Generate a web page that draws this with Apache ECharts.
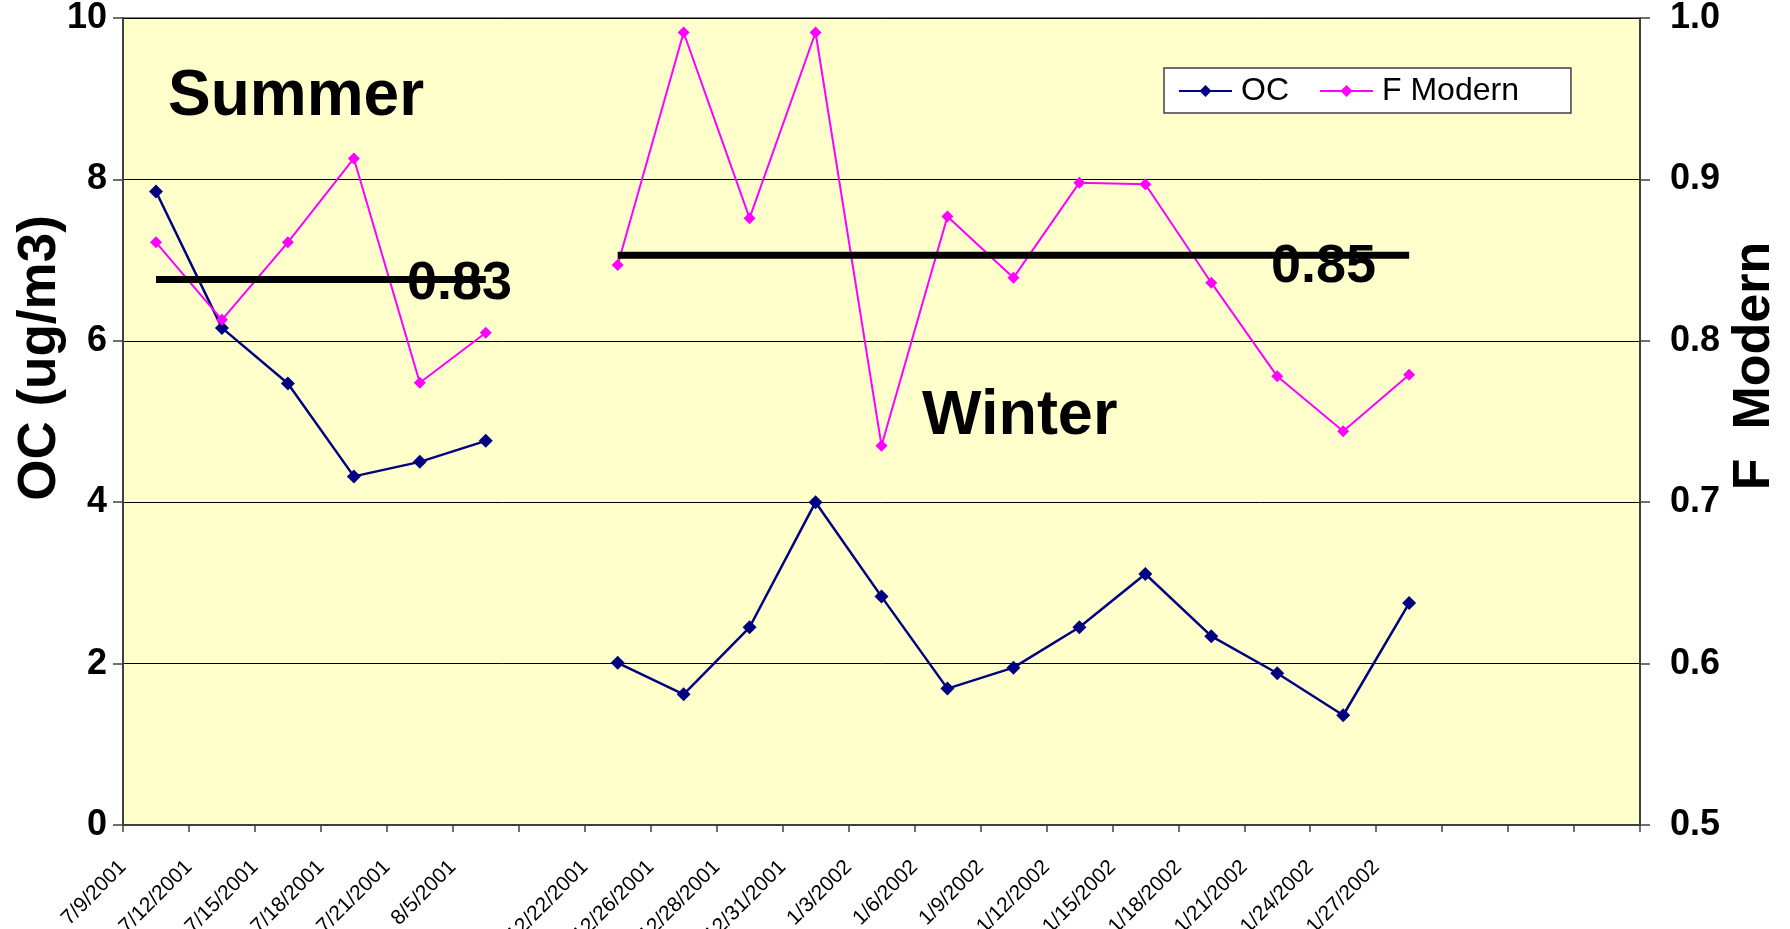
<!DOCTYPE html>
<html>
<head>
<meta charset="utf-8">
<title>OC and F Modern</title>
<script src="https://cdn.jsdelivr.net/npm/echarts@6/dist/echarts.min.js"></script>
<style>
  html, body { margin: 0; padding: 0; background: #fff; }
  #chart { width: 1790px; height: 929px; }
</style>
</head>
<body>
<div id="chart"></div>
<script>
// sampling dates, blank entries are empty slots on the axis
var dates = ['7/9/2001', '7/12/2001', '7/15/2001', '7/18/2001', '7/21/2001', '8/5/2001', '',
  '12/22/2001', '12/26/2001', '12/28/2001', '12/31/2001', '1/3/2002', '1/6/2002', '1/9/2002',
  '1/12/2002', '1/15/2002', '1/18/2002', '1/21/2002', '1/24/2002', '1/27/2002', '', '', ''];

var ocValues = [7.85, 6.16, 5.47, 4.32, 4.50, 4.76, null,
  2.01, 1.62, 2.45, 4.00, 2.83, 1.69, 1.95, 2.45, 3.11, 2.34, 1.88, 1.36, 2.75, null, null, null];

var fModern = [0.861, 0.813, 0.861, 0.913, 0.774, 0.805, null,
  0.847, 0.991, 0.876, 0.991, 0.735, 0.877, 0.839, 0.898, 0.897, 0.836, 0.778, 0.744, 0.779, null, null, null];

// season averages of F Modern (the black bars)
var summerMean = [0.838, 0.838, 0.838, 0.838, 0.838, 0.838, null,
  null, null, null, null, null, null, null, null, null, null, null, null, null, null, null, null];
var winterMean = [null, null, null, null, null, null, null,
  0.853, 0.853, 0.853, 0.853, 0.853, 0.853, 0.853, 0.853, 0.853, 0.853, 0.853, 0.853, 0.853, null, null, null];

var ocTicks = [0, 2, 4, 6, 8, 10];
var fTicks = [0.5, 0.6, 0.7, 0.8, 0.9, 1.0];

var FONT = '"Liberation Sans", Arial, sans-serif';

var chart = echarts.init(document.getElementById('chart'));

var option = {
  animation: false,
  backgroundColor: '#fff',
  grid: {
    left: 123, right: 150, top: 18, bottom: 104,
    outerBoundsMode: 'none',
    show: true,
    backgroundColor: '#FFFFCC',
    borderColor: '#808080',
    borderWidth: 2
  },
  legend: {
    data: ['OC', 'F Modern'],
    left: 1164, top: 68,
    backgroundColor: '#fff',
    borderColor: '#404040',
    borderWidth: 1.5,
    padding: [7, 52, 6, 14],
    itemWidth: 53, itemHeight: 15, itemGap: 30,
    textStyle: { fontSize: 32, color: '#000', fontFamily: FONT, padding: [0, 0, 0, 4] }
  },
  xAxis: [
    {
      // ticks between the categories, points sit in the middle
      type: 'category',
      data: dates,
      boundaryGap: true,
      axisLine: { lineStyle: { color: '#404040', width: 2 } },
      axisTick: { show: true, length: 7, interval: 0, lineStyle: { color: '#404040', width: 1.5 } },
      axisLabel: { show: false }
    },
    {
      // label axis: each date sits on the left tick of its slot
      type: 'category',
      data: dates.concat(['']),
      boundaryGap: false,
      position: 'bottom',
      axisLine: { show: false },
      axisTick: { show: false },
      axisLabel: {
        interval: 0, rotate: 45, margin: 39,
        fontSize: 21, color: '#000', fontFamily: FONT
      }
    }
  ],
  yAxis: [
    {
      type: 'value',
      min: ocTicks[0], max: ocTicks[ocTicks.length - 1], interval: 2,
      axisLine: { show: true, lineStyle: { color: '#404040', width: 2 } },
      axisTick: { show: true, length: 10, lineStyle: { color: '#404040', width: 1.5 } },
      axisLabel: { margin: 16, fontSize: 36, fontWeight: 'bold', color: '#000', fontFamily: FONT },
      splitLine: { show: true, lineStyle: { color: '#000', width: 1 } }
    },
    {
      type: 'value',
      position: 'right',
      min: fTicks[0], max: fTicks[fTicks.length - 1], interval: 0.1,
      axisLine: { show: true, lineStyle: { color: '#404040', width: 2 } },
      axisTick: { show: true, length: 10, lineStyle: { color: '#404040', width: 1.5 } },
      axisLabel: {
        margin: 30, fontSize: 36, fontWeight: 'bold', color: '#000', fontFamily: FONT,
        formatter: function (v) { return v.toFixed(1); }
      },
      splitLine: { show: false }
    }
  ],
  series: [
    {
      name: 'OC',
      type: 'line',
      xAxisIndex: 0, yAxisIndex: 0,
      data: ocValues,
      symbol: 'diamond', symbolSize: 14,
      lineStyle: { color: '#000080', width: 2.5 },
      itemStyle: { color: '#000080' }
    },
    {
      name: 'F Modern',
      type: 'line',
      xAxisIndex: 0, yAxisIndex: 1,
      data: fModern,
      symbol: 'diamond', symbolSize: 12,
      lineStyle: { color: '#FF00FF', width: 2 },
      itemStyle: { color: '#FF00FF' }
    },
    {
      name: 'Summer mean',
      type: 'line',
      xAxisIndex: 0, yAxisIndex: 1,
      data: summerMean,
      symbol: 'none',
      lineStyle: { color: '#000', width: 7 },
      silent: true
    },
    {
      name: 'Winter mean',
      type: 'line',
      xAxisIndex: 0, yAxisIndex: 1,
      data: winterMean,
      symbol: 'none',
      lineStyle: { color: '#000', width: 7 },
      silent: true
    }
  ],
  graphic: [
    {
      type: 'text', x: 168, y: 97, z: 100,
      style: { text: 'Summer', font: 'bold 64px ' + FONT, fill: '#000',
        align: 'left', verticalAlign: 'middle', textAlign: 'left', textVerticalAlign: 'middle' }
    },
    {
      type: 'text', x: 922, y: 417, z: 100,
      style: { text: 'Winter', font: 'bold 63px ' + FONT, fill: '#000',
        align: 'left', verticalAlign: 'middle', textAlign: 'left', textVerticalAlign: 'middle' }
    },
    {
      type: 'text', x: 407, y: 284, z: 100,
      style: { text: '0.83', font: 'bold 54px ' + FONT, fill: '#000',
        align: 'left', verticalAlign: 'middle', textAlign: 'left', textVerticalAlign: 'middle' }
    },
    {
      type: 'text', x: 1271, y: 267, z: 100,
      style: { text: '0.85', font: 'bold 54px ' + FONT, fill: '#000',
        align: 'left', verticalAlign: 'middle', textAlign: 'left', textVerticalAlign: 'middle' }
    },
    {
      type: 'text', x: 40, y: 358, rotation: Math.PI / 2, z: 100,
      style: { text: 'OC (ug/m3)', font: 'bold 53px ' + FONT, fill: '#000',
        align: 'center', verticalAlign: 'middle', textAlign: 'center', textVerticalAlign: 'middle' }
    },
    {
      type: 'text', x: 1755, y: 366, rotation: Math.PI / 2, z: 100,
      style: { text: 'F  Modern', font: 'bold 52px ' + FONT, fill: '#000',
        align: 'center', verticalAlign: 'middle', textAlign: 'center', textVerticalAlign: 'middle' }
    }
  ]
};

chart.setOption(option);
</script>
</body>
</html>
